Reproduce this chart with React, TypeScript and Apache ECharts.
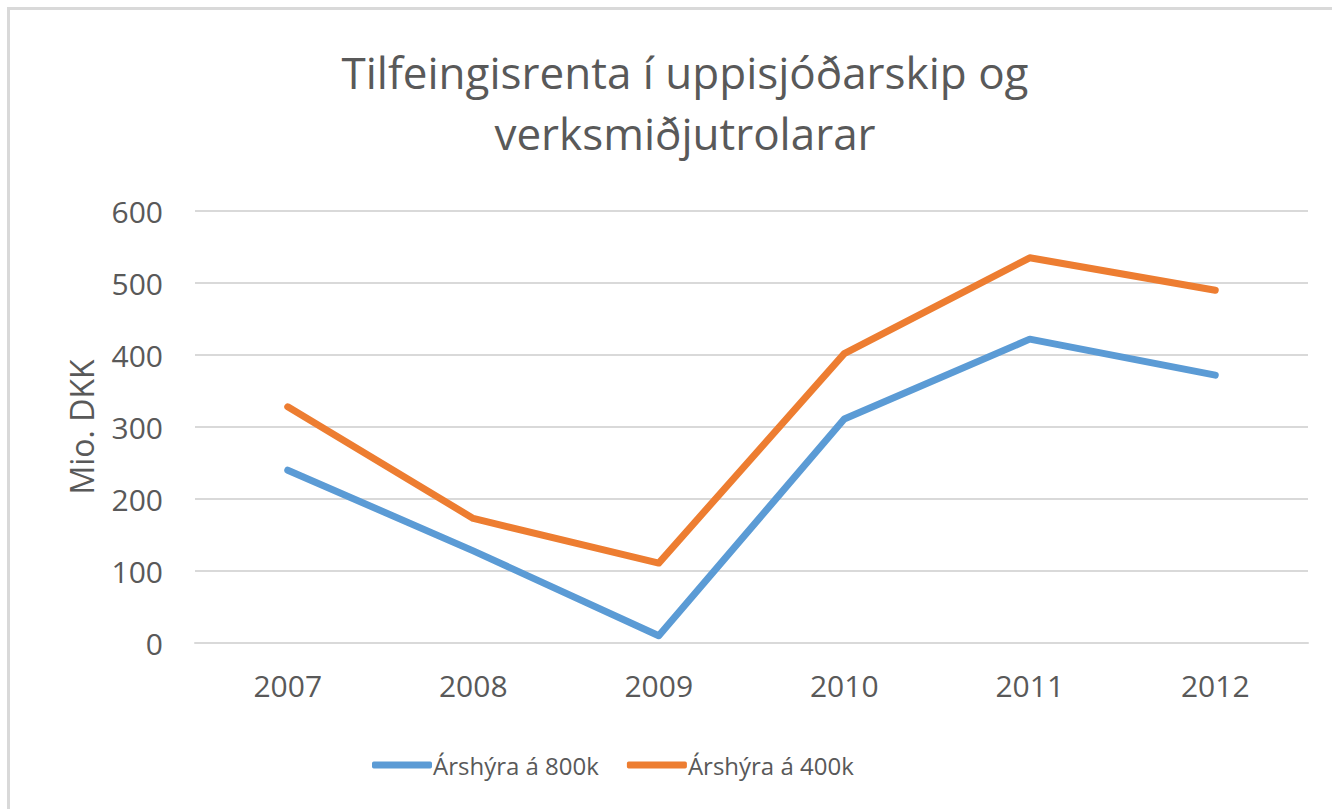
import React, { useEffect, useRef } from "react";
import * as echarts from "echarts";

const years = ["2007", "2008", "2009", "2010", "2011", "2012"];
const series800k = [240, 128, 10, 311, 422, 372];
const series400k = [328, 173, 111, 402, 535, 490];
const seriesNames = ["Árshýra á 800k", "Árshýra á 400k"];
const titleText = "Tilfeingisrenta í uppisjóðarskip og\nverksmiðjutrolarar";
const yAxisName = "Mio. DKK";

const FONT = "'Open Sans', 'Noto Sans', sans-serif";

export default function App() {
  const ref = useRef<HTMLDivElement>(null);
  useEffect(() => {
    if (!ref.current) return;
    const chart = echarts.init(ref.current, undefined, { renderer: "svg" });
    chart.setOption({
      animation: false,
      backgroundColor: "#ffffff",
      title: {
        text: titleText,
        left: 680,
        top: 36,
        textAlign: "center",
        textStyle: {
          fontFamily: FONT,
          fontSize: 44,
          fontWeight: "normal",
          color: "#595959",
          lineHeight: 61,
        },
      },
      legend: {
        left: 367,
        top: 748,
        itemWidth: 60,
        itemHeight: 7,
        itemGap: 28,
        icon: "roundRect",
        textStyle: {
          fontFamily: FONT,
          fontSize: 24,
          color: "#595959",
          padding: [0, 0, 0, -4],
        },
        data: seriesNames,
      },
      grid: {
        left: 195,
        right: 24,
        top: 211,
        bottom: 166,
        containLabel: false,
      },
      xAxis: {
        type: "category",
        data: years,
        boundaryGap: true,
        axisLine: { show: true, lineStyle: { color: "#d9d9d9", width: 2 } },
        axisTick: { show: false },
        axisLabel: {
          fontFamily: FONT,
          fontSize: 30,
          color: "#595959",
          margin: 27,
        },
      },
      yAxis: {
        type: "value",
        min: 0,
        max: 600,
        interval: 100,
        name: yAxisName,
        nameLocation: "middle",
        nameRotate: 90,
        nameGap: 98,
        nameTextStyle: {
          fontFamily: FONT,
          fontSize: 32,
          color: "#595959",
        },
        axisLine: { show: false },
        axisTick: { show: false },
        splitLine: { lineStyle: { color: "#d9d9d9", width: 2 } },
        axisLabel: {
          fontFamily: FONT,
          fontSize: 30,
          color: "#595959",
          margin: 32,
        },
      },
      series: [
        {
          name: seriesNames[0],
          type: "line",
          data: series800k,
          symbol: "none",
          lineStyle: { color: "#5B9BD5", width: 7, cap: "round", join: "round" },
          itemStyle: { color: "#5B9BD5" },
        },
        {
          name: seriesNames[1],
          type: "line",
          data: series400k,
          symbol: "none",
          lineStyle: { color: "#ED7D31", width: 7, cap: "round", join: "round" },
          itemStyle: { color: "#ED7D31" },
        },
      ],
      graphic: [
        {
          type: "line",
          shape: { x1: 7, y1: 8.5, x2: 1332, y2: 8.5 },
          style: { stroke: "#d9d9d9", lineWidth: 3 },
          silent: true,
        },
        {
          type: "line",
          shape: { x1: 8.5, y1: 7, x2: 8.5, y2: 809 },
          style: { stroke: "#d9d9d9", lineWidth: 3 },
          silent: true,
        },
      ],
    });
    return () => chart.dispose();
  }, []);
  return (
    <div
      ref={ref}
      style={{ position: "fixed", left: 0, top: 0, width: 1332, height: 809 }}
    />
  );
}
